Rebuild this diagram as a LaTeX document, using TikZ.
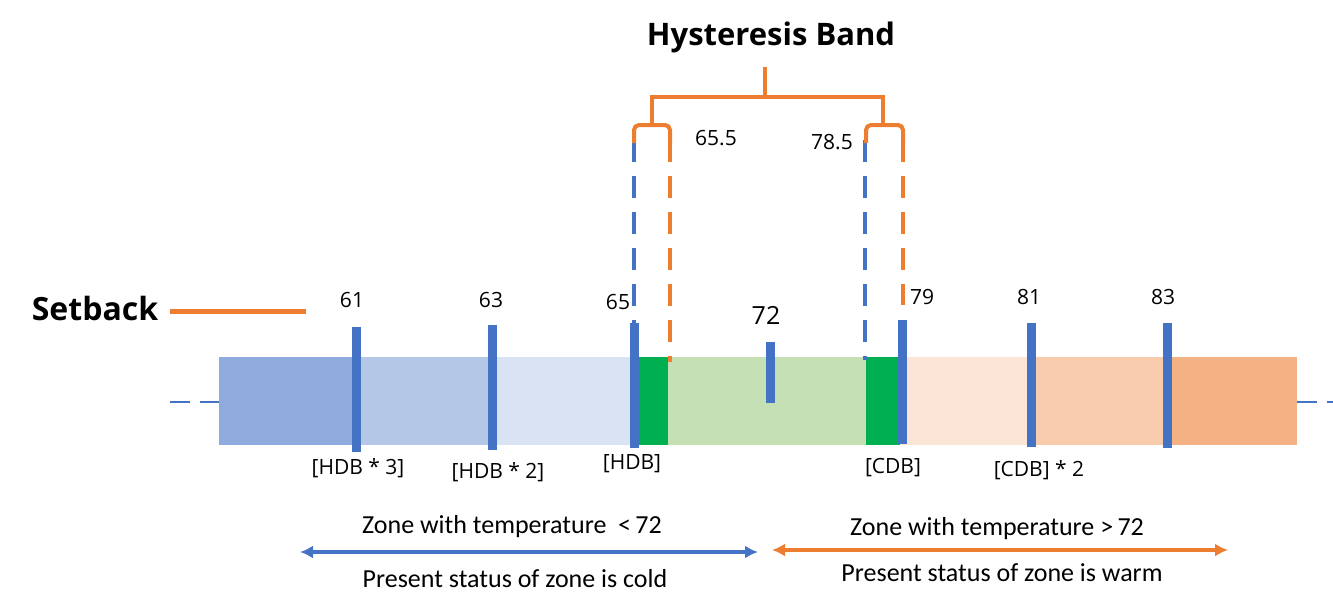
\documentclass[tikz,border=0pt]{standalone}
\usepackage{fontspec}
\setmainfont{Open Sans}
\newfontfamily\lightfont{Carlito}
\usetikzlibrary{arrows.meta}
\definecolor{tickblue}{HTML}{4472C4}
\definecolor{bandorange}{HTML}{ED7D31}
\definecolor{coldA}{HTML}{8FAADC}
\definecolor{coldB}{HTML}{B4C7E7}
\definecolor{coldC}{HTML}{DAE3F3}
\definecolor{okgreen}{HTML}{00B050}
\definecolor{lightgreen}{HTML}{C5E0B4}
\definecolor{warmA}{HTML}{FBE5D6}
\definecolor{warmB}{HTML}{F8CBAD}
\definecolor{warmC}{HTML}{F4B183}
\tikzset{
  tick/.style={tickblue, line width=9pt},
  num/.style={font=\fontsize{21}{24}\selectfont},
  db/.style={font=\fontsize{21}{24}\selectfont},
  zone/.style={font=\lightfont\fontsize{26}{29}\selectfont},
  hdash/.style={line width=4pt, dash pattern=on 22pt off 14pt},
  brace/.style={bandorange, line width=4pt, rounded corners=5pt}
}

\begin{document}
\begin{tikzpicture}[x=1pt, y=-1pt]
  \useasboundingbox (0,0) rectangle (1333,610);

  \newcommand\Top{357};
  \newcommand\Bot{445};

  %% dashed axis
  \draw[tickblue, line width=2.5pt, dash pattern=on 20pt off 10pt] (170,402) -- (219,402);
  \draw[tickblue, line width=2.5pt, dash pattern=on 20pt off 10pt] (1297,402) -- (1333,402);

  %% band segments
  \fill[coldA] (219,\Top) rectangle (357,\Bot);
  \fill[coldB] (357,\Top) rectangle (490,\Bot);
  \fill[coldC] (490,\Top) rectangle (634,\Bot);
  \fill[okgreen] (634,\Top) rectangle (668,\Bot);
  \fill[lightgreen] (668,\Top) rectangle (866,\Bot);
  \fill[okgreen] (866,\Top) rectangle (900,\Bot);
  \fill[warmA] (900,\Top) rectangle (1030,\Bot);
  \fill[warmB] (1030,\Top) rectangle (1167,\Bot);
  \fill[warmC] (1167,\Top) rectangle (1297,\Bot);

  %% hysteresis dashed lines
  \draw[hdash, tickblue] (634,140) -- (634,360);
  \draw[hdash, bandorange] (670,140) -- (670,362);
  \draw[hdash, tickblue] (865,140) -- (865,360);
  \draw[hdash, bandorange] (903,140) -- (903,305);

  %% ticks
  \draw[tick] (356,327) -- (356,452);
  \draw[tick] (492,325) -- (492,450);
  \draw[tick] (634,323) -- (634,448);
  \draw[tick] (770,342) -- (770,403);
  \draw[tick] (902,320) -- (902,444);
  \draw[tick] (1031,323) -- (1031,447);
  \draw[tick] (1167,323) -- (1167,448);

  \node[num] (t61) at (352,300) {61};
  \node[num] (t63) at (491,300) {63};
  \node[num] (t65) at (618,302) {65};
  \node[font=\fontsize{25}{28}\selectfont] (t72) at (766,315) {72};
  \node[num] (t79) at (922,297) {79};
  \node[num] (t81) at (1029,297) {81};
  \node[num] (t83) at (1163,297) {83};

  \node[db] (hdb3) at (358,468) {[HDB * 3]};
  \node[db] (hdb2) at (498,472) {[HDB * 2]};
  \node[db] (hdb1) at (632,464) {[HDB]};
  \node[db] (cdb1) at (893,468) {[CDB]};
  \node[db] (cdb2) at (1039,470) {[CDB] * 2};

  %% brackets
  \draw[brace] (634,143) -- (634,125) -- (670,125) -- (670,143);
  \draw[brace] (866,143) -- (866,125) -- (903,125) -- (903,143);
  \draw[bandorange, line width=4pt] (652,125) -- (652,97) -- (883,97) -- (883,125);
  \draw[bandorange, line width=4pt] (765,97) -- (765,67);

  \node[num] (lo) at (716,138) {65.5};
  \node[num] (hi) at (832,142) {78.5};
  \node[font=\bfseries\fontsize{31}{35}\selectfont] (title) at (771,37) {Hysteresis Band};

  %% setback
  \node[font=\bfseries\fontsize{32}{36}\selectfont] (setback) at (95,308) {Setback};
  \coordinate (sbA) at (170,311);
  \coordinate (sbB) at (306,311);
  \draw[bandorange, line width=5pt] (sbA) -- (sbB);

  %% zones
  \coordinate (coldL) at (300,552);
  \coordinate (coldR) at (758,552);
  \coordinate (warmL) at (772,550);
  \coordinate (warmR) at (1228,550);
  \draw[{Latex[length=13pt,width=13pt]}-{Latex[length=13pt,width=13pt]}, tickblue, line width=3.5pt] (coldL) -- (coldR);
  \draw[{Latex[length=13pt,width=13pt]}-{Latex[length=13pt,width=13pt]}, bandorange, line width=3.5pt] (warmL) -- (warmR);
  \node[zone] (coldtxt) at (512,527) {Zone with temperature\ \ {<}\,72};
  \node[zone] (coldst) at (515,579) {Present status of zone is cold};
  \node[zone] (warmtxt) at (997,529) {Zone with temperature {>}\,72};
  \node[zone] (warmst) at (1002,573) {Present status of zone is warm};
\end{tikzpicture}
\end{document}
